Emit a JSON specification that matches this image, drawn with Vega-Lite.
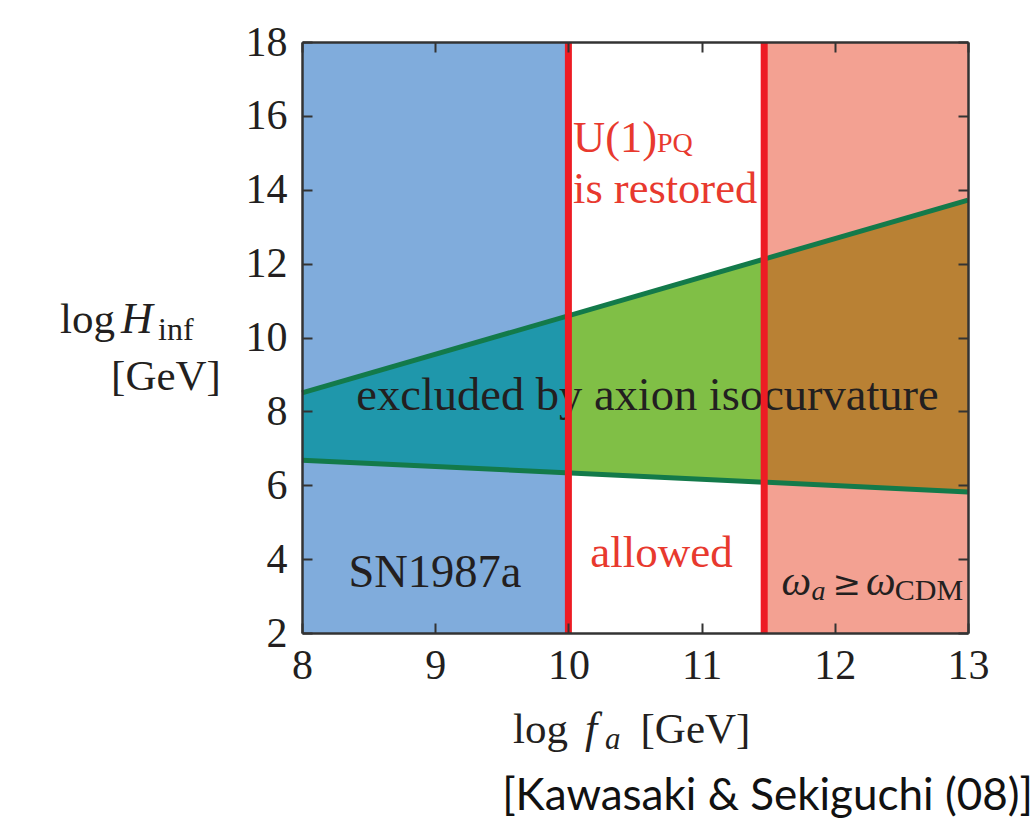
{
  "$schema": "https://vega.github.io/schema/vega-lite/v6.json",
  "width": 666,
  "height": 591,
  "autosize": {"type": "none"},
  "padding": {"left": 302, "top": 42, "right": 65, "bottom": 198},
  "background": "white",
  "config": {
    "view": {"stroke": null},
    "axis": {
      "grid": false,
      "domainColor": "#333333",
      "domainWidth": 2.5,
      "tickColor": "#333333",
      "tickWidth": 2,
      "tickSize": -10,
      "labelFlush": false,
      "labelFont": "Liberation Serif",
      "labelFontSize": 42,
      "labelColor": "#231f20",
      "zindex": 2,
      "title": null
    }
  },
  "resolve": {"axis": {"x": "independent", "y": "independent"}},
  "datasets": {
    "regions": [
      {"x": 8, "x2": 10, "y": 2, "y2": 18, "region": "SN1987a"},
      {"x": 11.47, "x2": 13, "y": 2, "y2": 18, "region": "overclosure"}
    ],
    "band": [
      {"x": 8, "upper": 8.5, "lower": 6.68, "part": "a"},
      {"x": 10, "upper": 10.588, "lower": 6.336, "part": "a"},
      {"x": 10, "upper": 10.588, "lower": 6.336, "part": "b"},
      {"x": 11.47, "upper": 12.123, "lower": 6.083, "part": "b"},
      {"x": 11.47, "upper": 12.123, "lower": 6.083, "part": "c"},
      {"x": 13, "upper": 13.72, "lower": 5.82, "part": "c"}
    ],
    "bounds": [
      {"x": 8, "y": 8.5, "edge": "upper"},
      {"x": 13, "y": 13.72, "edge": "upper"},
      {"x": 8, "y": 6.68, "edge": "lower"},
      {"x": 13, "y": 5.82, "edge": "lower"}
    ],
    "walls": [{"x": 10}, {"x": 11.47}]
  },
  "layer": [
    {
      "data": {"name": "regions"},
      "mark": {"type": "rect"},
      "encoding": {
        "x": {"field": "x", "type": "quantitative", "scale": {"domain": [8, 13], "nice": false, "zero": false}, "axis": {"orient": "top", "labels": false, "values": [8, 9, 10, 11, 12, 13], "zindex": 2, "tickSize": -10}},
        "x2": {"field": "x2"},
        "y": {"field": "y", "type": "quantitative", "scale": {"domain": [2, 18], "nice": false, "zero": false}, "axis": {"orient": "right", "labels": false, "values": [2, 4, 6, 8, 10, 12, 14, 16, 18], "zindex": 2, "tickSize": -10}},
        "y2": {"field": "y2"},
        "color": {"field": "region", "type": "nominal", "scale": {"domain": ["SN1987a", "overclosure"], "range": ["#80acdc", "#f3a192"]}, "legend": null}
      }
    },
    {
      "data": {"name": "band"},
      "mark": {"type": "area", "opacity": 1},
      "encoding": {
        "x": {"field": "x", "type": "quantitative", "axis": null},
        "y": {"field": "upper", "type": "quantitative", "axis": null},
        "y2": {"field": "lower"},
        "detail": {"field": "part"},
        "fill": {"field": "part", "type": "nominal", "scale": {"domain": ["a", "b", "c"], "range": ["#1f97ab", "#80bf46", "#b98134"]}, "legend": null}
      }
    },
    {
      "data": {"name": "bounds"},
      "mark": {"type": "line", "color": "#137a4a", "strokeWidth": 5},
      "encoding": {
        "x": {"field": "x", "type": "quantitative", "axis": {"orient": "bottom", "values": [8, 9, 10, 11, 12, 13], "labelPadding": 22, "zindex": 2, "tickSize": -10}},
        "y": {"field": "y", "type": "quantitative", "axis": {"orient": "left", "values": [2, 4, 6, 8, 10, 12, 14, 16, 18], "labelPadding": 25, "zindex": 2, "tickSize": -10}},
        "detail": {"field": "edge"}
      }
    },
    {
      "data": {"values": [
        {"x": 10.594, "y": 8.04, "t": "excluded by axion isocurvature"},
        {"x": 8.998, "y": 3.25, "t": "SN1987a"}
      ]},
      "mark": {"type": "text", "font": "Liberation Serif", "fontSize": 46.5, "color": "#231f20", "align": "center", "baseline": "alphabetic"},
      "encoding": {
        "x": {"field": "x", "type": "quantitative", "axis": null},
        "y": {"field": "y", "type": "quantitative", "axis": null},
        "text": {"field": "t"}
      }
    },
    {
      "data": {"values": [
        {"x": 10.699, "y": 3.79, "t": "allowed"}
      ]},
      "mark": {"type": "text", "font": "Liberation Serif", "fontSize": 45, "color": "#e8392e", "align": "center", "baseline": "alphabetic"},
      "encoding": {
        "x": {"field": "x", "type": "quantitative", "axis": null},
        "y": {"field": "y", "type": "quantitative", "axis": null},
        "text": {"field": "t"}
      }
    },
    {
      "data": {"values": [
        {"x": 10.035, "y": 15.02, "t": "U(1)"},
        {"x": 10.035, "y": 13.64, "t": "is restored"}
      ]},
      "mark": {"type": "text", "font": "Liberation Serif", "fontSize": 44.5, "color": "#e8392e", "align": "left", "baseline": "alphabetic"},
      "encoding": {
        "x": {"field": "x", "type": "quantitative", "axis": null},
        "y": {"field": "y", "type": "quantitative", "axis": null},
        "text": {"field": "t"}
      }
    },
    {
      "data": {"values": [
        {"x": 10.665, "y": 15.02, "t": "PQ"}
      ]},
      "mark": {"type": "text", "font": "Liberation Serif", "fontSize": 28, "color": "#e8392e", "align": "left", "baseline": "alphabetic"},
      "encoding": {
        "x": {"field": "x", "type": "quantitative", "axis": null},
        "y": {"field": "y", "type": "quantitative", "axis": null},
        "text": {"field": "t"}
      }
    },
    {
      "data": {"values": [
        {"x": 11.6, "y": 3.03, "t": "ω"},
        {"x": 12.235, "y": 3.03, "t": "ω"}
      ]},
      "mark": {"type": "text", "font": "Liberation Serif", "fontStyle": "italic", "fontSize": 42, "color": "#231f20", "align": "left", "baseline": "alphabetic"},
      "encoding": {
        "x": {"field": "x", "type": "quantitative", "axis": null},
        "y": {"field": "y", "type": "quantitative", "axis": null},
        "text": {"field": "t"}
      }
    },
    {
      "data": {"values": [
        {"x": 11.982, "y": 3.03, "t": "≥"}
      ]},
      "mark": {"type": "text", "font": "DejaVu Serif", "fontSize": 34, "color": "#231f20", "align": "left", "baseline": "alphabetic"},
      "encoding": {
        "x": {"field": "x", "type": "quantitative", "axis": null},
        "y": {"field": "y", "type": "quantitative", "axis": null},
        "text": {"field": "t"}
      }
    },
    {
      "data": {"values": [
        {"x": 11.825, "y": 2.88, "t": "a"}
      ]},
      "mark": {"type": "text", "font": "Liberation Serif", "fontStyle": "italic", "fontSize": 28, "color": "#231f20", "align": "left", "baseline": "alphabetic"},
      "encoding": {
        "x": {"field": "x", "type": "quantitative", "axis": null},
        "y": {"field": "y", "type": "quantitative", "axis": null},
        "text": {"field": "t"}
      }
    },
    {
      "data": {"values": [
        {"x": 12.45, "y": 2.88, "t": "CDM"}
      ]},
      "mark": {"type": "text", "font": "Liberation Serif", "fontSize": 30, "color": "#231f20", "align": "left", "baseline": "alphabetic"},
      "encoding": {
        "x": {"field": "x", "type": "quantitative", "axis": null},
        "y": {"field": "y", "type": "quantitative", "axis": null},
        "text": {"field": "t"}
      }
    },
    {
      "data": {"values": [
        {"x": 6.183, "y": 10.12, "t": "log"},
        {"x": 9.584, "y": -0.977, "t": "log"}
      ]},
      "mark": {"type": "text", "font": "Liberation Serif", "fontSize": 43, "color": "#231f20", "align": "left", "baseline": "alphabetic", "clip": false},
      "encoding": {
        "x": {"field": "x", "type": "quantitative", "axis": null},
        "y": {"field": "y", "type": "quantitative", "axis": null},
        "text": {"field": "t"}
      }
    },
    {
      "data": {"values": [
        {"x": 6.979, "y": 8.58, "t": "[GeV]"},
        {"x": 10.954, "y": -0.977, "t": "[GeV]"}
      ]},
      "mark": {"type": "text", "font": "Liberation Serif", "fontSize": 43, "color": "#231f20", "align": "center", "baseline": "alphabetic", "clip": false},
      "encoding": {
        "x": {"field": "x", "type": "quantitative", "axis": null},
        "y": {"field": "y", "type": "quantitative", "axis": null},
        "text": {"field": "t"}
      }
    },
    {
      "data": {"values": [
        {"x": 6.641, "y": 10.12, "t": "H"},
        {"x": 10.125, "y": -0.977, "t": "f"}
      ]},
      "mark": {"type": "text", "font": "Liberation Serif", "fontStyle": "italic", "fontSize": 44, "color": "#231f20", "align": "left", "baseline": "alphabetic", "clip": false},
      "encoding": {
        "x": {"field": "x", "type": "quantitative", "axis": null},
        "y": {"field": "y", "type": "quantitative", "axis": null},
        "text": {"field": "t"}
      }
    },
    {
      "data": {"values": [
        {"x": 10.275, "y": -1.139, "t": "a"}
      ]},
      "mark": {"type": "text", "font": "Liberation Serif", "fontStyle": "italic", "fontSize": 31, "color": "#231f20", "align": "left", "baseline": "alphabetic", "clip": false},
      "encoding": {
        "x": {"field": "x", "type": "quantitative", "axis": null},
        "y": {"field": "y", "type": "quantitative", "axis": null},
        "text": {"field": "t"}
      }
    },
    {
      "data": {"values": [
        {"x": 6.919, "y": 9.93, "t": "inf"}
      ]},
      "mark": {"type": "text", "font": "Liberation Serif", "fontSize": 32, "color": "#231f20", "align": "left", "baseline": "alphabetic", "clip": false},
      "encoding": {
        "x": {"field": "x", "type": "quantitative", "axis": null},
        "y": {"field": "y", "type": "quantitative", "axis": null},
        "text": {"field": "t"}
      }
    },
    {
      "data": {"values": [
        {"x": 11.495, "y": -2.79, "t": "[Kawasaki & Sekiguchi (08)]"}
      ]},
      "mark": {"type": "text", "font": "Lato", "fontSize": 44, "color": "#111111", "align": "center", "baseline": "alphabetic", "clip": false},
      "encoding": {
        "x": {"field": "x", "type": "quantitative", "axis": null},
        "y": {"field": "y", "type": "quantitative", "axis": null},
        "text": {"field": "t"}
      }
    },
    {
      "data": {"name": "walls"},
      "mark": {"type": "rule", "color": "#ed1c24", "strokeWidth": 7},
      "encoding": {
        "x": {"field": "x", "type": "quantitative", "axis": null}
      }
    }
  ]
}
